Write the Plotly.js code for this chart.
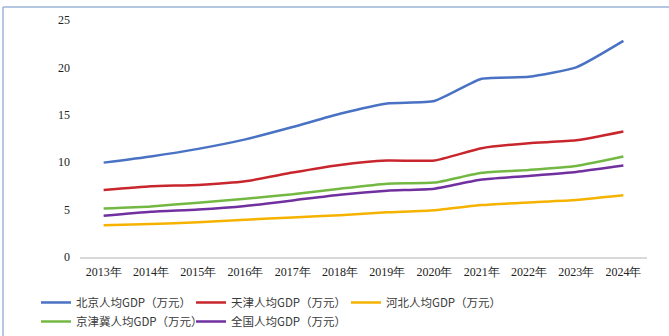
<!DOCTYPE html>
<html>
<head>
<meta charset="utf-8">
<script src="https://cdn.plot.ly/plotly-3.0.1.min.js"></script>
<style>html,body{margin:0;padding:0;background:#fff;}#chart{width:669px;height:336px;}</style>
</head>
<body>
<div id="chart"></div>
<script>
const years = ['2013年','2014年','2015年','2016年','2017年','2018年','2019年','2020年','2021年','2022年','2023年','2024年'];
const beijing = [9.95, 10.6, 11.4, 12.4, 13.7, 15.1, 16.2, 16.45, 18.8, 19.0, 20.0, 22.8];
const tianjin = [7.05, 7.45, 7.6, 7.98, 8.9, 9.7, 10.17, 10.17, 11.47, 12.0, 12.3, 13.24];
const hebei = [3.35, 3.46, 3.67, 3.92, 4.16, 4.4, 4.7, 4.93, 5.47, 5.75, 6.0, 6.5];
const jjj = [5.12, 5.33, 5.72, 6.14, 6.6, 7.2, 7.73, 7.84, 8.87, 9.18, 9.6, 10.6];
const national = [4.34, 4.77, 5.0, 5.37, 5.96, 6.57, 6.99, 7.2, 8.16, 8.55, 8.97, 9.64];
const yTicks = [0, 5, 10, 15, 20, 25];

const names = ['北京人均GDP（万元）','天津人均GDP（万元）','河北人均GDP（万元）','京津冀人均GDP（万元）','全国人均GDP（万元）'];
const series = [beijing, tianjin, hebei, jjj, national];
const colors = ['#4A72C4','#C8262C','#F5B300','#74B844','#7030A0'];
const legendOf = ['legend','legend','legend','legend2','legend2'];

const traces = series.map((s,i)=>({
  x: years, y: s, name: names[i], type:'scatter', mode:'lines', legend: legendOf[i],
  line:{color:colors[i], width:2.5, shape:'spline', smoothing:0.5}
}));

const legendFont = {family:'"Noto Sans CJK SC", sans-serif', size:11.5, color:'#3a3a3a'};
const legendBase = {orientation:'h', xref:'container', yref:'container', xanchor:'left', yanchor:'top',
  entrywidth:110, entrywidthmode:'pixels', tracegroupgap:0, font:legendFont, bgcolor:'rgba(0,0,0,0)'};

const layout = {
  width:669, height:336,
  margin:{l:80, r:22, t:20, b:79, autoexpand:false},
  paper_bgcolor:'#fff', plot_bgcolor:'#fff',
  showlegend:true,
  legend:Object.assign({}, legendBase, {x:0.0538, y:0.1429}),
  legend2:Object.assign({}, legendBase, {x:0.0538, y:0.0863}),
  xaxis:{type:'category', showgrid:false, showline:true, linecolor:'#d9d9d9', linewidth:1.5,
    ticks:'', ticklabelstandoff:3, automargin:false,
    tickfont:{family:'"Liberation Serif", serif', size:12, color:'#222'},
    range:[-0.5, 11.5], zeroline:false},
  yaxis:{range:[-0.01,25], tickmode:'array', tickvals:yTicks, showgrid:false, zeroline:false, showline:false, ticks:'',
    automargin:false,
    tickfont:{family:'"Liberation Serif", serif', size:12, color:'#222'}, ticklabelstandoff:9},
  shapes:[
    {type:'line', xref:'paper', yref:'paper', x0:-0.1358, x1:1.04, y0:1.0549, y1:1.0549, line:{color:'#9db3d6', width:1.5}},
    {type:'line', xref:'paper', yref:'paper', x0:-0.1358, x1:-0.1358, y0:1.0549, y1:-0.34, line:{color:'#9db3d6', width:1.5}}
  ]
};
Plotly.newPlot('chart', traces, layout, {displayModeBar:false, staticPlot:true});
</script>
</body>
</html>
